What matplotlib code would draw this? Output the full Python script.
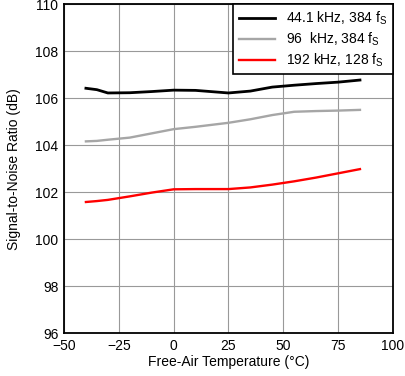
import matplotlib
matplotlib.use("Agg")
import matplotlib.pyplot as plt

# Data
temp = [-40, -35, -30, -20, -10, 0, 10, 25, 35, 45, 55, 65, 75, 85]
snr_44k = [106.42, 106.36, 106.22, 106.23, 106.28, 106.34, 106.33, 106.22, 106.30, 106.47, 106.55, 106.62, 106.68, 106.77]
snr_96k = [104.16, 104.18, 104.23, 104.32, 104.50, 104.68, 104.78, 104.95, 105.10, 105.28, 105.42, 105.45, 105.47, 105.50]
snr_192k = [101.58, 101.62, 101.67, 101.82, 101.98, 102.12, 102.13, 102.13, 102.20, 102.32, 102.46, 102.62, 102.80, 102.98]
labels = ["44.1 kHz, 384 f$_\\mathregular{S}$",
          "96  kHz, 384 f$_\\mathregular{S}$",
          "192 kHz, 128 f$_\\mathregular{S}$"]
xticks = [-50, -25, 0, 25, 50, 75, 100]
yticks = [96, 98, 100, 102, 104, 106, 108, 110]

plt.rcParams["font.family"] = ["Liberation Sans", "DejaVu Sans"]
plt.rcParams["font.size"] = 10

fig = plt.figure(figsize=(4.05, 3.76), dpi=100)
ax = fig.add_axes([0.158, 0.114, 0.812, 0.875])

ax.plot(temp, snr_44k, color="black", linewidth=2.0, label=labels[0])
ax.plot(temp, snr_96k, color="#a6a6a6", linewidth=1.7, label=labels[1])
ax.plot(temp, snr_192k, color="#ff0000", linewidth=1.7, label=labels[2])

ax.set_xlim(-50, 100)
ax.set_ylim(96, 110)
ax.set_xticks(xticks)
ax.set_yticks(yticks)
ax.tick_params(length=0, pad=4)
ax.grid(True, color="#999999", linewidth=0.8)
ax.set_axisbelow(True)
for s in ax.spines.values():
    s.set_linewidth(1.3)
    s.set_color("black")

ax.set_xlabel("Free-Air Temperature (°C)", labelpad=2)
ax.set_ylabel("Signal-to-Noise Ratio (dB)", labelpad=10)

leg = ax.legend(loc="upper right", bbox_to_anchor=(1, 1), borderaxespad=0,
                fancybox=False, framealpha=1, edgecolor="black",
                handlelength=2.6, labelspacing=0.25, borderpad=0.4)
leg.get_frame().set_linewidth(1.2)

fig.savefig("out.png", dpi=100)
